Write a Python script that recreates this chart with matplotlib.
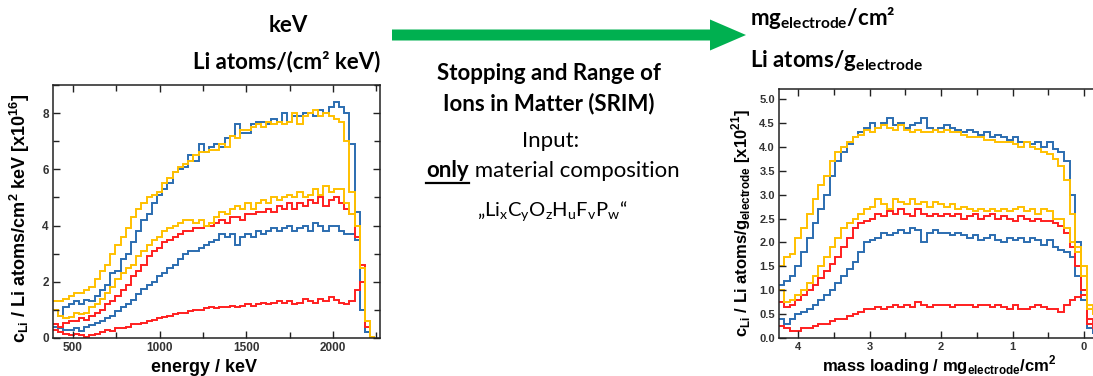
import numpy as np
import matplotlib
matplotlib.use("Agg")
import matplotlib.pyplot as plt
from matplotlib.patches import FancyArrow
from matplotlib.ticker import MultipleLocator

plt.rcParams['mathtext.fontset'] = 'custom'
plt.rcParams['mathtext.rm'] = 'Lato'
plt.rcParams['mathtext.bf'] = 'Lato:bold'
plt.rcParams['mathtext.sf'] = 'Liberation Sans:bold'

BLUE = '#2b6cb0'
YELLOW = '#ffc000'
RED = '#ff1f1f'
GREEN = '#00b050'

# left chart: energy bins (keV), 30 keV wide
energy_edges = np.arange(385, 2246, 30)
# c_Li in 1e16 Li atoms / cm2 keV
e_blue_hi = [1.0, 0.8, 1.1, 1.2, 1.3, 1.2, 1.35, 1.3, 1.5, 1.7,
             1.9, 2.3, 2.4, 2.8, 3.0, 3.4, 3.8, 4.2, 4.4, 4.8,
             5.1, 5.3, 5.5, 5.9, 6.0, 6.1, 6.5, 6.3, 6.9, 6.6,
             6.8, 6.9, 6.8, 7.1, 7.2, 7.6, 7.3, 7.3, 7.6, 7.7,
             7.7, 7.6, 7.8, 7.7, 8.0, 7.7, 7.9, 7.9, 8.0, 8.0,
             7.9, 8.1, 8.0, 8.2, 8.4, 8.2, 8.0, 6.9, 4.5, 1.0,
             0.2, 0.0]
e_yellow_hi = [1.3, 1.3, 1.4, 1.5, 1.6, 1.6, 1.7, 1.8, 2.1, 2.4,
               2.6, 3.0, 3.3, 3.6, 3.9, 4.3, 4.6, 4.8, 5.0, 5.1,
               5.2, 5.5, 5.7, 5.9, 6.1, 6.2, 6.3, 6.5, 6.6, 6.6,
               6.7, 6.7, 6.9, 6.8, 7.2, 7.1, 7.4, 7.4, 7.5, 7.6,
               7.5, 7.7, 7.6, 7.7, 7.6, 7.7, 8.0, 7.6, 7.9, 8.0,
               8.1, 7.9, 8.0, 7.9, 7.8, 7.7, 7.0, 5.2, 4.0, 2.5,
               0.6, 0.05]
e_yellow_lo = [1.0, 0.8, 0.7, 0.75, 0.9, 0.85, 0.9, 1.1, 1.2, 1.4,
               1.6, 1.8, 2.1, 2.3, 2.5, 2.6, 2.9, 3.1, 3.3, 3.5,
               3.6, 3.8, 3.9, 4.0, 4.1, 4.2, 4.2, 4.1, 4.2, 4.0,
               4.1, 4.3, 4.5, 4.4, 4.6, 4.7, 4.6, 4.8, 4.6, 4.8,
               4.9, 4.8, 5.0, 4.9, 5.0, 5.1, 5.0, 5.2, 5.0, 5.1,
               5.3, 5.1, 5.4, 5.2, 5.3, 5.3, 4.8, 4.4, 4.0, 2.5,
               0.6, 0.0]
e_red_hi = [0.5, 0.4, 0.55, 0.6, 0.6, 0.7, 0.65, 0.8, 0.9, 1.0,
            1.2, 1.3, 1.5, 1.7, 1.9, 2.2, 2.4, 2.6, 2.9, 3.1,
            3.2, 3.4, 3.5, 3.6, 3.7, 3.8, 3.8, 3.9, 3.9, 4.0,
            4.0, 4.1, 4.2, 4.1, 4.3, 4.3, 4.2, 4.4, 4.4, 4.5,
            4.5, 4.6, 4.5, 4.7, 4.6, 4.8, 4.6, 4.8, 4.7, 4.9,
            4.8, 5.0, 4.7, 4.9, 5.0, 4.8, 4.6, 4.4, 3.6, 2.6,
            0.6, 0.0]
e_blue_lo = [0.4, 0.35, 0.3, 0.3, 0.35, 0.25, 0.4, 0.45, 0.55, 0.6,
             0.7, 0.8, 0.95, 1.1, 1.2, 1.35, 1.55, 1.75, 1.9, 2.0,
             2.2, 2.3, 2.5, 2.6, 2.8, 3.0, 3.1, 3.1, 3.2, 3.3,
             3.4, 3.5, 3.7, 3.6, 3.7, 3.3, 3.6, 3.7, 3.6, 3.8,
             3.7, 3.8, 3.9, 3.8, 3.9, 4.0, 3.8, 3.9, 4.0, 3.8,
             4.1, 4.0, 3.8, 4.0, 4.0, 3.8, 3.7, 3.7, 3.5, 1.0,
             0.2, 0.0]
e_red_lo = [0.3, 0.2, 0.15, 0.1, 0.15, 0.1, 0.05, 0.1, 0.15, 0.2,
            0.3, 0.25, 0.35, 0.35, 0.4, 0.5, 0.5, 0.55, 0.6, 0.65,
            0.7, 0.75, 0.8, 0.85, 0.9, 0.9, 0.95, 1.0, 1.0, 1.05,
            1.1, 1.05, 1.1, 1.1, 1.15, 1.1, 1.15, 1.2, 1.15, 1.2,
            1.25, 1.2, 1.25, 1.3, 1.25, 1.3, 1.2, 1.25, 1.4, 1.3,
            1.25, 1.4, 1.3, 1.45, 1.35, 1.25, 1.2, 1.3, 1.7, 2.0,
            0.4, 0.0]

# right chart: mass loading bins (mg/cm2), from 4.28 down to -0.20
mass_edges = np.round(np.arange(4.28, -0.201, -0.08), 2)
# c_Li in 1e21 Li atoms / g electrode
m_blue_hi = [1.1, 1.2, 1.3, 1.5, 1.8, 2.1, 2.4, 2.7, 3.0, 3.4,
             3.7, 3.9, 4.05, 4.2, 4.3, 4.4, 4.5, 4.4, 4.5, 4.6,
             4.45, 4.5, 4.4, 4.45, 4.5, 4.6, 4.4, 4.35, 4.4, 4.45,
             4.4, 4.35, 4.3, 4.35, 4.3, 4.25, 4.3, 4.2, 4.25, 4.2,
             4.15, 4.2, 4.1, 4.1, 4.05, 4.1, 4.0, 4.1, 3.95, 3.9,
             3.7, 3.0, 2.0, 1.0, 0.3, 0.1]
m_yellow_hi = [1.5, 1.7, 1.75, 2.1, 2.3, 2.6, 2.9, 3.2, 3.4, 3.7,
               3.9, 4.0, 4.1, 4.2, 4.25, 4.35, 4.3, 4.4, 4.45, 4.4,
               4.35, 4.45, 4.35, 4.3, 4.35, 4.3, 4.3, 4.35, 4.3, 4.35,
               4.3, 4.3, 4.25, 4.2, 4.2, 4.2, 4.15, 4.15, 4.1, 4.1,
               4.1, 4.05, 4.0, 4.1, 4.0, 3.95, 3.9, 3.85, 3.75, 3.6,
               3.3, 2.6, 1.9, 1.5, 0.7, 0.5]
m_yellow_lo = [1.0, 0.75, 0.8, 0.9, 1.0, 1.15, 1.3, 1.5, 1.7, 1.9,
               2.1, 2.3, 2.4, 2.5, 2.6, 2.7, 2.75, 2.9, 2.8, 2.7,
               2.9, 2.85, 2.8, 2.9, 2.8, 2.85, 2.75, 2.85, 2.8, 2.75,
               2.8, 2.7, 2.75, 2.7, 2.65, 2.7, 2.65, 2.7, 2.65, 2.7,
               2.65, 2.7, 2.75, 2.65, 2.7, 2.6, 2.7, 2.65, 2.5, 2.5,
               2.3, 2.0, 1.8, 1.3, 0.6, 0.5]
m_red_hi = [0.75, 0.65, 0.7, 0.8, 0.9, 1.0, 1.1, 1.25, 1.4, 1.55,
            1.7, 1.9, 2.1, 2.3, 2.4, 2.45, 2.5, 2.6, 2.55, 2.65,
            2.6, 2.7, 2.6, 2.55, 2.7, 2.6, 2.55, 2.6, 2.55, 2.6,
            2.55, 2.6, 2.5, 2.55, 2.6, 2.5, 2.55, 2.6, 2.5, 2.55,
            2.5, 2.45, 2.55, 2.5, 2.45, 2.5, 2.45, 2.45, 2.4, 2.35,
            2.2, 1.9, 1.5, 1.0, 0.4, 0.3]
m_blue_lo = [0.4, 0.3, 0.4, 0.5, 0.55, 0.6, 0.7, 0.8, 0.9, 1.0,
             1.15, 1.3, 1.45, 1.6, 1.8, 2.0, 2.05, 2.1, 2.2, 2.15,
             2.2, 2.25, 2.2, 2.3, 2.25, 2.0, 2.2, 2.25, 2.2, 2.2,
             2.15, 2.2, 2.15, 2.1, 2.15, 2.05, 2.1, 2.15, 2.05, 2.0,
             2.1, 2.05, 2.1, 2.0, 2.1, 2.05, 1.95, 2.05, 1.9, 1.85,
             1.8, 1.7, 1.3, 0.8, 0.2, 0.1]
m_red_lo = [0.25, 0.2, 0.15, 0.15, 0.2, 0.2, 0.25, 0.3, 0.3, 0.35,
            0.4, 0.4, 0.45, 0.5, 0.55, 0.6, 0.6, 0.65, 0.6, 0.65,
            0.7, 0.65, 0.7, 0.65, 0.75, 0.7, 0.65, 0.7, 0.7, 0.7,
            0.65, 0.7, 0.7, 0.7, 0.65, 0.7, 0.7, 0.65, 0.7, 0.65,
            0.6, 0.7, 0.6, 0.6, 0.65, 0.7, 0.65, 0.6, 0.6, 0.55,
            0.7, 0.8, 0.85, 0.9, 0.3, 0.2]

W, H = 1093, 376
fig = plt.figure(figsize=(W / 100, H / 100), dpi=100)

# overlay in pixel coordinates for the slide texts and the arrow
ov = fig.add_axes([0, 0, 1, 1])
ov.set_xlim(0, W)
ov.set_ylim(H, 0)
ov.axis('off')

slide = dict(family='Lato', fontsize=16, color='black')
ov.add_patch(FancyArrow(392, 35, 354, 0, width=11, head_width=31, head_length=36,
                        length_includes_head=True, color=GREEN, lw=0))
ov.text(288, 32, 'keV', ha='center', va='baseline', fontweight='bold', **slide)
ov.text(287, 68, 'Li atoms/(cm² keV)', ha='center', va='baseline', fontweight='bold', **slide)
ov.text(549, 80, 'Stopping and Range of', ha='center', va='baseline', fontweight='bold', **slide)
ov.text(549, 110, 'Ions in Matter (SRIM)', ha='center', va='baseline', fontweight='bold', **slide)
ov.text(551, 147, 'Input:', ha='center', va='baseline', **slide)
t_only = ov.text(0, 177, 'only', ha='left', va='baseline', fontweight='bold', **slide)
t_rest = ov.text(0, 177, ' material composition', ha='left', va='baseline', **slide)
ov.text(552, 217, '„Li$_\\mathrm{x}$C$_\\mathrm{y}$O$_\\mathrm{z}$H$_\\mathrm{u}$F$_\\mathrm{v}$P$_\\mathrm{w}$“',
        ha='center', va='baseline', family='Lato', fontsize=14.5)
ov.text(750, 25, 'mg$_\\mathbf{electrode}$/cm²', ha='left', va='baseline', fontweight='bold', **slide)
ov.text(750, 67, 'Li atoms/g$_\\mathbf{electrode}$', ha='left', va='baseline', fontweight='bold', **slide)

# put "only" + rest side by side, centred, and underline "only"
fig.canvas.draw()
inv = ov.transData.inverted()
w_only = t_only.get_window_extent().transformed(inv).width
w_rest = t_rest.get_window_extent().transformed(inv).width
x0 = 553 - (w_only + w_rest) / 2
t_only.set_x(x0)
t_rest.set_x(x0 + w_only)
ov.plot([x0, x0 + w_only], [183, 183], color='black', lw=1.6)


def style_axes(ax, tick_size):
    ax.tick_params(which='both', direction='in', top=True, right=True,
                   colors='#222222', labelcolor='#333333', labelsize=tick_size)
    ax.tick_params(which='major', length=5, width=1.0, pad=3)
    ax.tick_params(which='minor', length=4, width=1.0)
    for lab in ax.get_xticklabels() + ax.get_yticklabels():
        lab.set_family('Liberation Sans')
        lab.set_fontweight('bold')
    for sp in ax.spines.values():
        sp.set_linewidth(1.1)
        sp.set_color('#222222')


# left chart
axL = fig.add_axes([53 / W, 1 - 338 / H, 327 / W, 253 / H])
for vals, col in [(e_blue_hi, BLUE), (e_blue_lo, BLUE), (e_red_hi, RED),
                  (e_red_lo, RED), (e_yellow_hi, YELLOW), (e_yellow_lo, YELLOW)]:
    axL.stairs(vals, energy_edges, color=col, lw=1.4, baseline=None)
axL.set_xlim(385, 2271)
axL.set_ylim(0, 9.0)
axL.xaxis.set_major_locator(MultipleLocator(500))
axL.xaxis.set_minor_locator(MultipleLocator(250))
axL.yaxis.set_major_locator(MultipleLocator(2))
axL.yaxis.set_minor_locator(MultipleLocator(1))
style_axes(axL, 8.5)

# right chart (extends past the right edge of the picture)
axR = fig.add_axes([779 / W, 1 - 338 / H, 330 / W, 249 / H])
for vals, col in [(m_blue_hi, BLUE), (m_blue_lo, BLUE), (m_red_hi, RED),
                  (m_red_lo, RED), (m_yellow_hi, YELLOW), (m_yellow_lo, YELLOW)]:
    axR.stairs(vals[::-1], mass_edges[::-1], color=col, lw=1.4, baseline=None)
axR.set_xlim(4.27, -0.35)
axR.set_ylim(0, 5.21)
axR.xaxis.set_major_locator(MultipleLocator(1))
axR.xaxis.set_minor_locator(MultipleLocator(0.5))
axR.yaxis.set_major_locator(MultipleLocator(0.5))
axR.yaxis.set_major_formatter('{x:.1f}')
style_axes(axR, 8)

lab = dict(family='Liberation Sans', fontweight='bold', color='black')
ov.text(204, 372, 'energy / keV', ha='center', va='baseline', fontsize=13, **lab)
ov.text(20, 218, 'c$_\\mathsf{Li}$ / Li atoms/cm$^\\mathsf{2}$ keV [x10$^\\mathsf{16}$]',
        rotation=90, ha='center', va='center', fontsize=13, **lab)
ov.text(939, 371, 'mass loading / mg$_\\mathsf{electrode}$/cm$^\\mathsf{2}$',
        ha='center', va='baseline', fontsize=12, **lab)
ov.text(741, 223, 'c$_\\mathsf{Li}$ / Li atoms/g$_\\mathsf{electrode}$ [x10$^\\mathsf{21}$]',
        rotation=90, ha='center', va='center', fontsize=12, **lab)

fig.savefig('out.png', dpi=100)
